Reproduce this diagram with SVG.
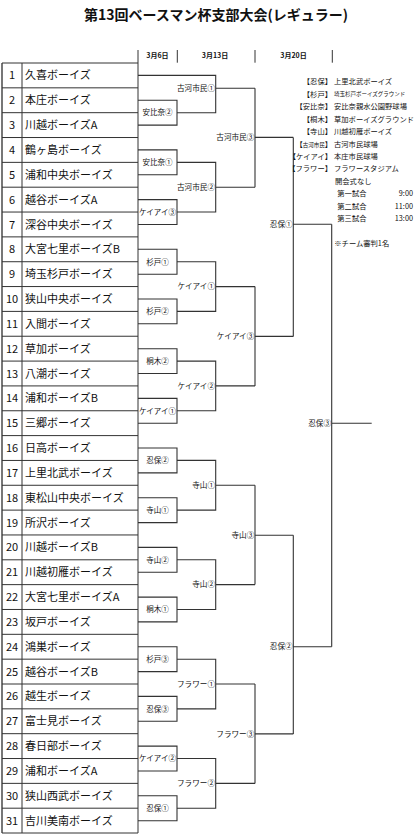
<svg xmlns="http://www.w3.org/2000/svg" width="416" height="835" viewBox="0 0 416 835">
<style>
text{font-family:"Noto Sans CJK JP","Noto Sans",sans-serif;fill:#111}
.title{font-size:14px;font-weight:bold;text-anchor:middle}
.hdr{font-size:7px;font-weight:bold;text-anchor:middle}
.num{font-size:11px;text-anchor:middle}
.team{font-size:11px}
.box{font-size:7.5px;text-anchor:middle}
.lab{font-size:7.6px;text-anchor:end}
.lg{font-size:7.3px}
.lge{font-size:7.3px;text-anchor:end}
.sm{font-size:5.5px}
.ln{fill:none;stroke:#333;stroke-width:1.1}
.grid{fill:none;stroke:#333;stroke-width:1}
.lb{fill:none;stroke:#777;stroke-width:2}
</style>
<text class="title" x="216" y="20">第13回ベースマン杯支部大会(レギュラー)</text>
<g id="header">
<path class="grid" d="M177.3,50V62.7M255,50V62.7M332.3,50V62.7"/>
<text class="hdr" x="157.5" y="57.5">3月6日</text>
<text class="hdr" x="215" y="57.5">3月13日</text>
<text class="hdr" x="293.5" y="57.5">3月20日</text>
</g>
<g id="table">
<path class="lb" d="M2,63V833"/>
<path class="grid" d="M22,63V833M138,50V833"/>
<path class="grid" d="M2,63H138M2,87.84H138M2,112.68H138M2,137.52H138M2,162.36H138M2,187.2H138M2,212.04H138M2,236.88H138M2,261.72H138M2,286.56H138M2,311.4H138M2,336.24H138M2,361.08H138M2,385.92H138M2,410.76H138M2,435.6H138M2,460.44H138M2,485.28H138M2,510.12H138M2,534.96H138M2,559.8H138M2,584.64H138M2,609.48H138M2,634.32H138M2,659.16H138M2,684H138M2,708.84H138M2,733.68H138M2,758.52H138M2,783.36H138M2,808.2H138M2,833H138"/>
</g>
<g id="teams">
<text class="num" x="12" y="79.4">1</text><text class="team" x="25" y="79.4">久喜ボーイズ</text>
<text class="num" x="12" y="104.3">2</text><text class="team" x="25" y="104.3">本庄ボーイズ</text>
<text class="num" x="12" y="129.1">3</text><text class="team" x="25" y="129.1">川越ボーイズA</text>
<text class="num" x="12" y="153.9">4</text><text class="team" x="25" y="153.9">鶴ヶ島ボーイズ</text>
<text class="num" x="12" y="178.8">5</text><text class="team" x="25" y="178.8">浦和中央ボーイズ</text>
<text class="num" x="12" y="203.6">6</text><text class="team" x="25" y="203.6">越谷ボーイズA</text>
<text class="num" x="12" y="228.5">7</text><text class="team" x="25" y="228.5">深谷中央ボーイズ</text>
<text class="num" x="12" y="253.3">8</text><text class="team" x="25" y="253.3">大宮七里ボーイズB</text>
<text class="num" x="12" y="278.2">9</text><text class="team" x="25" y="278.2">埼玉杉戸ボーイズ</text>
<text class="num" x="12" y="303">10</text><text class="team" x="25" y="303">狭山中央ボーイズ</text>
<text class="num" x="12" y="327.8">11</text><text class="team" x="25" y="327.8">入間ボーイズ</text>
<text class="num" x="12" y="352.7">12</text><text class="team" x="25" y="352.7">草加ボーイズ</text>
<text class="num" x="12" y="377.5">13</text><text class="team" x="25" y="377.5">八潮ボーイズ</text>
<text class="num" x="12" y="402.4">14</text><text class="team" x="25" y="402.4">浦和ボーイズB</text>
<text class="num" x="12" y="427.2">15</text><text class="team" x="25" y="427.2">三郷ボーイズ</text>
<text class="num" x="12" y="452">16</text><text class="team" x="25" y="452">日高ボーイズ</text>
<text class="num" x="12" y="476.9">17</text><text class="team" x="25" y="476.9">上里北武ボーイズ</text>
<text class="num" x="12" y="501.7">18</text><text class="team" x="25" y="501.7">東松山中央ボーイズ</text>
<text class="num" x="12" y="526.6">19</text><text class="team" x="25" y="526.6">所沢ボーイズ</text>
<text class="num" x="12" y="551.4">20</text><text class="team" x="25" y="551.4">川越ボーイズB</text>
<text class="num" x="12" y="576.2">21</text><text class="team" x="25" y="576.2">川越初雁ボーイズ</text>
<text class="num" x="12" y="601.1">22</text><text class="team" x="25" y="601.1">大宮七里ボーイズA</text>
<text class="num" x="12" y="625.9">23</text><text class="team" x="25" y="625.9">坂戸ボーイズ</text>
<text class="num" x="12" y="650.8">24</text><text class="team" x="25" y="650.8">鴻巣ボーイズ</text>
<text class="num" x="12" y="675.6">25</text><text class="team" x="25" y="675.6">越谷ボーイズB</text>
<text class="num" x="12" y="700.4">26</text><text class="team" x="25" y="700.4">越生ボーイズ</text>
<text class="num" x="12" y="725.3">27</text><text class="team" x="25" y="725.3">富士見ボーイズ</text>
<text class="num" x="12" y="750.1">28</text><text class="team" x="25" y="750.1">春日部ボーイズ</text>
<text class="num" x="12" y="775">29</text><text class="team" x="25" y="775">浦和ボーイズA</text>
<text class="num" x="12" y="799.8">30</text><text class="team" x="25" y="799.8">狭山西武ボーイズ</text>
<text class="num" x="12" y="824.7">31</text><text class="team" x="25" y="824.7">吉川美南ボーイズ</text>
</g>
<g id="connectors">
<path class="ln" d="M138,100.3H177V125.1H138M138,149.9H177V174.8H138M138,199.6H177V224.5H138M138,249.3H177V274.2H138M138,299H177V323.8H138M138,348.7H177V373.5H138M138,398.4H177V423.2H138M138,448H177V472.9H138M138,497.7H177V522.6H138M138,547.4H177V572.2H138M138,597.1H177V621.9H138M138,646.8H177V671.6H138M138,696.4H177V721.3H138M138,746.1H177V771H138M138,795.8H177V820.7H138"/>
<path class="ln" d="M138,75.4H215.7V112.7H177M215.7,88.3H255"/>
<path class="ln" d="M177,162.4H215.7V212H177M215.7,187.2H255"/>
<path class="ln" d="M177,261.8H215.7V311.4H177M215.7,286.6H255"/>
<path class="ln" d="M177,361.1H215.7V410.8H177M215.7,385.9H255"/>
<path class="ln" d="M177,460.4H215.7V510.1H177M215.7,485.2H255"/>
<path class="ln" d="M177,559.8H215.7V609.5H177M215.7,584.6H255"/>
<path class="ln" d="M177,659.2H215.7V708.9H177M215.7,684H255"/>
<path class="ln" d="M177,758.5H215.7V808.2H177M215.7,783.4H255"/>
<path class="ln" d="M255,88.3V187.2M255,137.4H293.3"/>
<path class="ln" d="M255,286.6V385.9M255,336.4H293.3"/>
<path class="ln" d="M255,485.2V584.6M255,535.2H293.3"/>
<path class="ln" d="M255,684V783.4M255,733.9H293.3"/>
<path class="ln" d="M293.3,137.4V336.4M293.3,224.3H331.7"/>
<path class="ln" d="M293.3,535.2V733.9M293.3,646.7H331.7"/>
<path class="ln" d="M331.7,224.3V646.7M331.7,423.3H371.7"/>
</g>
<g id="r1labels">
<text class="box" x="157.5" y="115.4">安比奈②</text>
<text class="box" x="157.5" y="165.1">安比奈①</text>
<text class="box" x="157.5" y="214.8">ケイアイ③</text>
<text class="box" x="157.5" y="264.5">杉戸①</text>
<text class="box" x="157.5" y="314.1">杉戸②</text>
<text class="box" x="157.5" y="363.8">桐木②</text>
<text class="box" x="157.5" y="413.5">ケイアイ①</text>
<text class="box" x="157.5" y="463.1">忍保②</text>
<text class="box" x="157.5" y="512.8">寺山①</text>
<text class="box" x="157.5" y="562.5">寺山②</text>
<text class="box" x="157.5" y="612.2">桐木①</text>
<text class="box" x="157.5" y="661.9">杉戸③</text>
<text class="box" x="157.5" y="711.6">忍保③</text>
<text class="box" x="157.5" y="761.2">ケイアイ②</text>
<text class="box" x="157.5" y="810.9">忍保①</text>
</g>
<g id="r2labels">
<text class="lab" x="215" y="91">古河市民①</text>
<text class="lab" x="215" y="189.9">古河市民②</text>
<text class="lab" x="215" y="289.3">ケイアイ①</text>
<text class="lab" x="215" y="388.6">ケイアイ②</text>
<text class="lab" x="215" y="487.9">寺山①</text>
<text class="lab" x="215" y="587.3">寺山②</text>
<text class="lab" x="215" y="686.7">フラワー①</text>
<text class="lab" x="215" y="786.1">フラワー②</text>
</g>
<g id="r3labels">
<text class="lab" x="254.3" y="140.1">古河市民③</text>
<text class="lab" x="254.3" y="339.1">ケイアイ③</text>
<text class="lab" x="254.3" y="537.9">寺山③</text>
<text class="lab" x="254.3" y="736.6">フラワー③</text>
</g>
<g id="r4labels">
<text class="lab" x="292.6" y="227">忍保①</text>
<text class="lab" x="292.6" y="649.4">忍保②</text>
<text class="lab" x="331" y="426">忍保③</text>
</g>
<g id="legend">
<text class="lge" x="332" y="84.4">【忍保】</text><text class="lg" x="334" y="84.4">上里北武ボーイズ</text>
<text class="lge" x="332" y="96.8">【杉戸】</text><text class="lg sm" x="334" y="96.3">埼玉杉戸ボーイズグラウンド</text>
<text class="lge" x="332" y="109.3">【安比奈】</text><text class="lg" x="334" y="109.3">安比奈親水公園野球場</text>
<text class="lge" x="332" y="121.7">【桐木】</text><text class="lg" x="334" y="121.7">草加ボーイズグラウンド</text>
<text class="lge" x="332" y="134.1">【寺山】</text><text class="lg" x="334" y="134.1">川越初雁ボーイズ</text>
<text class="lge" x="332" y="146.6">【<tspan class="sm">古河市民</tspan>】</text><text class="lg" x="334" y="146.6">古河市民球場</text>
<text class="lge" x="332" y="159">【ケイアイ】</text><text class="lg" x="334" y="159">本庄市民球場</text>
<text class="lge" x="332" y="171.4">【フラワー】</text><text class="lg" x="334" y="171.4">フラワースタジアム</text>
<text class="lg" x="335" y="183.9">開会式なし</text>
<text class="lg" x="337.3" y="196.3">第一試合</text><text class="lge" x="413" y="196.3">9:00</text>
<text class="lg" x="337.3" y="208.7">第二試合</text><text class="lge" x="413" y="208.7">11:00</text>
<text class="lg" x="337.3" y="221.2">第三試合</text><text class="lge" x="413" y="221.2">13:00</text>
<text class="lg" x="334.3" y="245.9">※チーム審判1名</text>
</g>
</svg>
